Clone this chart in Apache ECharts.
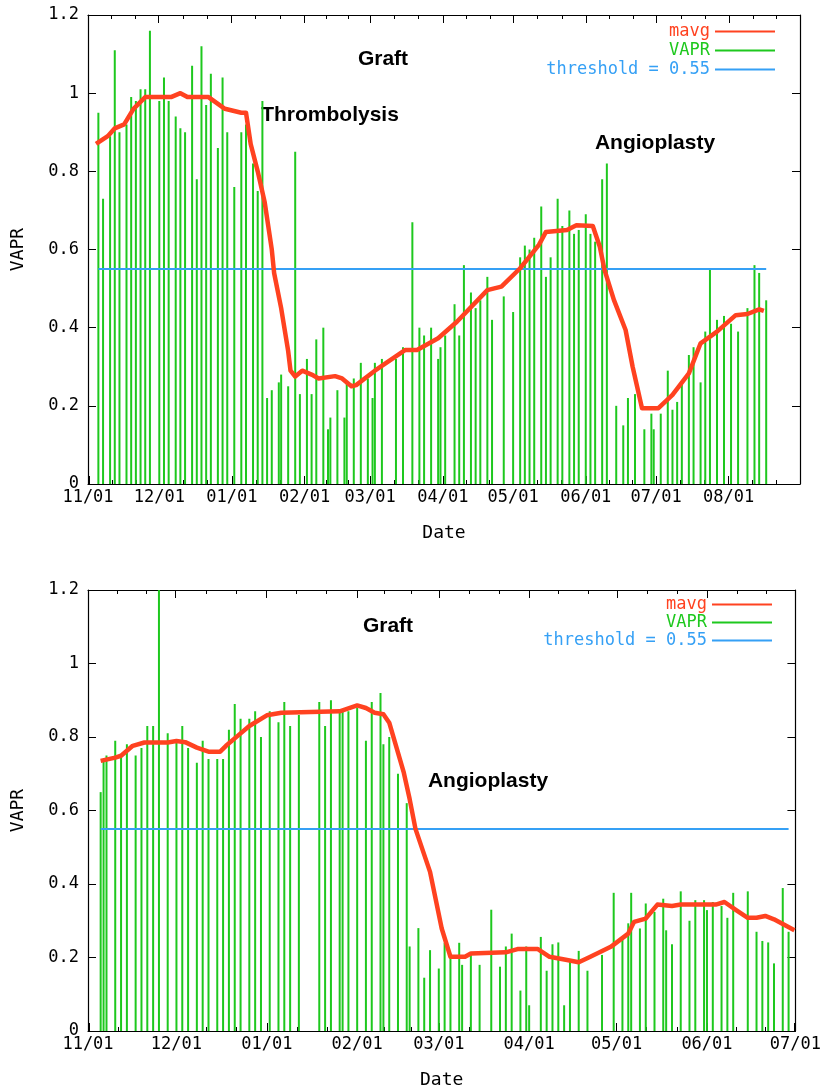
<!DOCTYPE html>
<html><head><meta charset="utf-8">
<script src="https://cdn.jsdelivr.net/npm/echarts/dist/echarts.min.js"></script>
<style>html,body{margin:0;padding:0;background:#fff}#c{width:824px;height:1090px}</style>
</head><body><div id="c"></div>
<script>
// ---- data (x = days after 11/01) ----
const topVaprDays = [4,6,9,11,13,16,18,20,22,24,26,30,32,34,37,39,41,44,46,48,50,52,55,57,59,62,65,67,70,72,74,76,78,81,82,85,88,90,93,95,97,100,102,103,106,109,110,113,116,119,121,122,125,131,134,138,141,143,146,149,150,152,156,158,160,163,165,167,170,172,177,181,184,186,188,190,193,195,197,200,202,205,207,209,212,214,216,219,221,225,228,230,233,237,240,241,244,247,249,251,253,256,258,261,263,265,268,271,274,277,281,284,286,289];
const topVaprValues = [0.95,0.73,0.89,1.11,0.90,0.92,0.99,0.98,1.01,1.01,1.16,0.98,1.04,0.98,0.94,0.91,0.90,1.07,0.78,1.12,0.97,1.05,0.86,1.04,0.90,0.76,0.90,0.92,0.82,0.75,0.98,0.22,0.24,0.26,0.28,0.25,0.85,0.23,0.32,0.23,0.37,0.40,0.14,0.17,0.24,0.17,0.26,0.27,0.31,0.27,0.22,0.31,0.32,0.32,0.35,0.67,0.40,0.38,0.40,0.32,0.35,0.38,0.46,0.38,0.56,0.49,0.45,0.47,0.53,0.42,0.48,0.44,0.58,0.61,0.60,0.63,0.71,0.53,0.58,0.73,0.66,0.70,0.64,0.65,0.69,0.64,0.62,0.78,0.82,0.20,0.15,0.22,0.23,0.14,0.18,0.14,0.18,0.29,0.19,0.21,0.26,0.33,0.35,0.26,0.39,0.55,0.42,0.43,0.41,0.39,0.45,0.56,0.54,0.47];
const topMavgDays = [3,8,11,15,19,24,35,39,42,51,58,65,67,69,72,75,78,79,82,85,86,88,91,95,98,105,108,112,114,122,135,140,149,157,170,176,184,192,195,204,208,215,218,220,224,229,232,236,243,249,256,261,268,276,281,286,288];
const topMavgValues = [0.87,0.89,0.91,0.92,0.96,0.99,0.99,1.00,0.99,0.99,0.96,0.95,0.95,0.87,0.80,0.72,0.60,0.54,0.45,0.34,0.29,0.275,0.29,0.28,0.27,0.276,0.27,0.25,0.253,0.29,0.343,0.343,0.373,0.415,0.496,0.505,0.552,0.612,0.645,0.650,0.662,0.660,0.607,0.548,0.471,0.394,0.30,0.194,0.194,0.228,0.283,0.36,0.39,0.432,0.435,0.447,0.443];
const topThresholdDays = [4, 289];

const botVaprDays = [4,5,6,9,11,13,16,18,20,22,24,27,30,32,34,37,39,41,44,46,48,50,52,55,57,59,62,65,67,69,72,79,81,83,86,87,89,92,95,97,100,101,103,106,109,110,113,115,117,120,122,124,127,128,131,134,138,141,143,145,148,150,151,155,157,159,161,163,165,168,171,176,180,183,185,186,189,191,194,197,198,200,203,206,208,211,212,214,217,219,221,226,229,231,233,235,238,240];
const botVaprValues = [0.65,0.735,0.75,0.79,0.75,0.78,0.75,0.77,0.83,0.83,1.2,0.81,0.785,0.83,0.77,0.73,0.79,0.74,0.74,0.74,0.82,0.89,0.85,0.85,0.87,0.80,0.87,0.84,0.895,0.83,0.86,0.895,0.83,0.90,0.87,0.87,0.87,0.88,0.79,0.895,0.92,0.78,0.80,0.70,0.62,0.23,0.28,0.145,0.22,0.17,0.24,0.21,0.24,0.18,0.21,0.18,0.33,0.175,0.23,0.265,0.11,0.23,0.07,0.256,0.164,0.236,0.241,0.07,0.19,0.218,0.164,0.207,0.376,0.252,0.293,0.376,0.279,0.347,0.324,0.36,0.274,0.236,0.38,0.30,0.356,0.356,0.329,0.351,0.34,0.308,0.376,0.38,0.27,0.245,0.241,0.184,0.389,0.27];
const botMavgDays = [4,9,11,15,19,27,30,33,37,41,45,47,51,55,61,66,86,92,95,98,101,103,105,108,110,112,117,121,124,129,131,143,147,154,158,164,168,172,179,185,187,191,195,200,203,215,218,222,226,229,232,235,242];
const botMavgValues = [0.735,0.744,0.749,0.776,0.785,0.785,0.789,0.786,0.771,0.760,0.760,0.776,0.803,0.830,0.859,0.866,0.870,0.886,0.879,0.866,0.862,0.839,0.785,0.703,0.631,0.550,0.433,0.279,0.202,0.202,0.211,0.214,0.223,0.223,0.202,0.193,0.187,0.202,0.229,0.265,0.297,0.306,0.344,0.340,0.344,0.344,0.351,0.329,0.308,0.308,0.313,0.304,0.274];
const botThresholdDays = [4, 240];

const thresholdValue = 0.55;
const seriesNames = ['mavg', 'VAPR', 'threshold = 0.55'];
const annotationsTop = ['Graft', 'Thrombolysis', 'Angioplasty'];
const annotationsBot = ['Graft', 'Angioplasty'];

// ---- styling ----
const MONO = '"DejaVu Sans Mono", "Liberation Mono", monospace';
const SANS = '"Liberation Sans", Arial, sans-serif';
const RED = '#ff4220', GREEN = '#1ec81e', BLUE = '#35a0f5';

const startTime = new Date(2002, 10, 1).getTime();
const DAY = 86400000;
const toT = d => startTime + d * DAY;
const pairs = (ds, vs) => ds.map((d, i) => [toT(d), vs[i]]);
const pad = n => (n < 10 ? '0' : '') + n;
const fmtDate = v => {
  const d = new Date(Math.max(v, startTime) + DAY / 2);
  return pad(d.getMonth() + 1) + '/' + pad(d.getDate());
};

function xAxes(gridIndex, max, showMax) {
  const common = {
    type: 'time', gridIndex, min: startTime, max,
    splitLine: { show: false },
    axisLine: { show: true, onZero: false, lineStyle: { color: '#000', width: 1.2 } },
    axisTick: { show: true, inside: true, length: 8, lineStyle: { color: '#000' } },
    minorTick: { show: true, splitNumber: 3, length: 4, lineStyle: { color: '#000' } },
    splitNumber: 10
  };
  return [
    Object.assign({}, common, {
      position: 'bottom',
      name: 'Date', nameLocation: 'middle', nameGap: 40,
      nameTextStyle: { fontFamily: MONO, fontSize: 18, color: '#000' },
      axisLabel: { fontFamily: MONO, fontSize: 17, color: '#000', margin: 5, formatter: fmtDate, showMaxLabel: showMax, showMinLabel: true }
    }),
    Object.assign({}, common, { position: 'top', axisLabel: { show: false } })
  ];
}
function yAxes(gridIndex) {
  const common = {
    type: 'value', gridIndex, min: 0, max: 1.2, interval: 0.2,
    splitLine: { show: false },
    axisLine: { show: true, lineStyle: { color: '#000', width: 1.2 } },
    axisTick: { show: true, inside: true, length: 8, lineStyle: { color: '#000' } }
  };
  return [
    Object.assign({}, common, {
      position: 'left', name: 'VAPR', nameLocation: 'middle', nameRotate: 90, nameGap: 61,
      nameTextStyle: { fontFamily: MONO, fontSize: 18, color: '#000' },
      axisLabel: { fontFamily: MONO, fontSize: 17, color: '#000', margin: 9 }
    }),
    Object.assign({}, common, { position: 'right', axisLabel: { show: false } })
  ];
}
function seriesFor(xi, yi, vd, vv, md, mv, td) {
  return [
    { type: 'bar', name: 'VAPR', xAxisIndex: xi, yAxisIndex: yi, data: pairs(vd, vv), barWidth: 2,
      itemStyle: { color: GREEN }, color: GREEN, z: 1, silent: true },
    { type: 'line', name: 'threshold = 0.55', xAxisIndex: xi, yAxisIndex: yi,
      data: td.map(d => [toT(d), thresholdValue]), symbol: 'none', color: BLUE,
      lineStyle: { color: BLUE, width: 2 }, z: 2, silent: true },
    { type: 'line', name: 'mavg', xAxisIndex: xi, yAxisIndex: yi, data: pairs(md, mv), symbol: 'none',
      color: RED, lineStyle: { color: RED, width: 4.5, join: 'round' }, z: 3, silent: true }
  ];
}
function legendItem(name, color, top, right) {
  return { data: [{ name, textStyle: { color } }], top, right, padding: 0, align: 'right', orient: 'horizontal',
    icon: 'rect', itemWidth: 60, itemHeight: 2, selectedMode: false,
    textStyle: { fontFamily: MONO, fontSize: 17, color } };
}
function note(text, x, y) {
  return { type: 'text', x, y, silent: true,
    style: { text, fontFamily: SANS, fontWeight: 'bold', fontSize: 21, fill: '#000', align: 'center', verticalAlign: 'middle' } };
}

const chart = echarts.init(document.getElementById('c'));
chart.setOption({
  animation: false,
  backgroundColor: '#fff',
  grid: [
    { left: 88, top: 15, width: 712, height: 469 },
    { left: 88, top: 590, width: 709, height: 443 }
  ],
  xAxis: [].concat(xAxes(0, new Date(2003, 7, 31).getTime(), false), xAxes(1, new Date(2003, 6, 1).getTime(), true)),
  yAxis: [].concat(yAxes(0), yAxes(1)),
  legend: [
    legendItem(seriesNames[0], RED, 23, 49),
    legendItem(seriesNames[1], GREEN, 42, 49),
    legendItem(seriesNames[2], BLUE, 61, 49),
    legendItem(seriesNames[0], RED, 596, 52),
    legendItem(seriesNames[1], GREEN, 614, 52),
    legendItem(seriesNames[2], BLUE, 632, 52)
  ],
  graphic: [
    note(annotationsTop[0], 383, 59),
    note(annotationsTop[1], 330, 115),
    note(annotationsTop[2], 655, 143),
    note(annotationsBot[0], 388, 626),
    note(annotationsBot[1], 488, 781)
  ],
  series: [].concat(
    seriesFor(0, 0, topVaprDays, topVaprValues, topMavgDays, topMavgValues, topThresholdDays),
    seriesFor(2, 2, botVaprDays, botVaprValues, botMavgDays, botMavgValues, botThresholdDays)
  )
});
</script></body></html>
